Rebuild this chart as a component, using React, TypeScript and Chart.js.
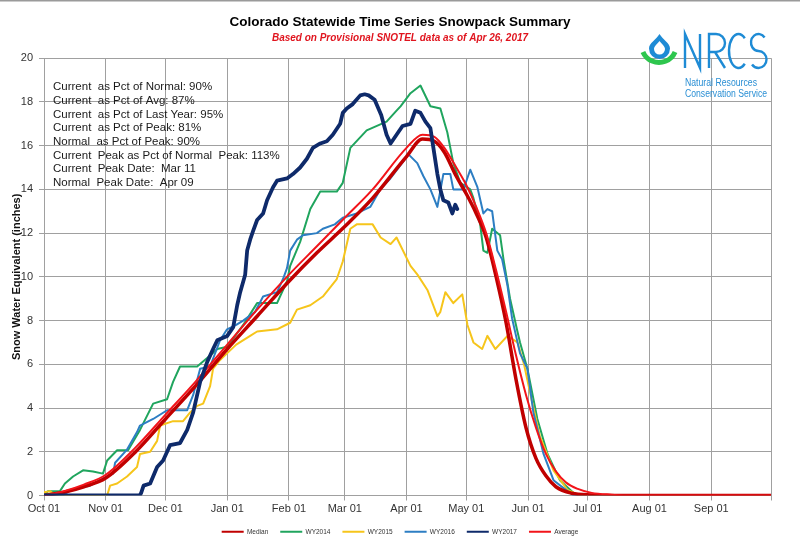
import { useEffect, useRef } from 'react';
import { Chart, registerables } from 'chart.js';

Chart.register(...registerables);
Chart.defaults.font.family = '"Liberation Sans", Arial, sans-serif';

// x values are days since Oct 01
const monthDays = [0, 31, 61, 92, 123, 151, 182, 212, 243, 273, 304, 335, 365];
const monthLabels = ['Oct 01', 'Nov 01', 'Dec 01', 'Jan 01', 'Feb 01', 'Mar 01', 'Apr 01', 'May 01', 'Jun 01', 'Jul 01', 'Aug 01', 'Sep 01', ''];

const seriesNames = ['Median', 'WY2014', 'WY2015', 'WY2016', 'WY2017', 'Average'];

const median: [number, number][] = [
  [0, 0], [10, 0.15], [20, 0.4], [31, 0.8], [46, 2.0], [61, 3.5], [76, 5.0], [92, 6.7], [107, 8.2], [123, 9.8],
  [137, 11.1], [151, 12.3], [165, 13.6], [182, 15.5], [190, 16.3], [196, 16.2], [201, 15.7], [207, 14.6], [212, 13.8],
  [217, 12.9], [222, 11.8], [227, 10.0], [232, 7.9], [237, 5.3], [242, 3.1], [247, 1.7], [252, 0.9], [257, 0.4],
  [265, 0.1], [275, 0.02], [285, 0], [365, 0],
];

const average: [number, number][] = [
  [0, 0], [10, 0.2], [20, 0.5], [31, 0.95], [46, 2.2], [61, 3.7], [76, 5.2], [92, 6.9], [107, 8.5], [123, 10.1],
  [137, 11.4], [151, 12.7], [165, 14.0], [182, 15.9], [190, 16.5], [196, 16.4], [201, 15.9], [207, 15.0], [212, 14.2],
  [217, 13.2], [222, 12.0], [227, 10.3], [232, 8.4], [237, 6.4], [242, 4.6], [247, 3.1], [252, 1.9], [257, 1.1],
  [262, 0.6], [268, 0.3], [275, 0.12], [285, 0.04], [295, 0], [365, 0],
];

const wy2014: [number, number][] = [
  [0, 0], [2, 0.2], [8, 0.2], [10.5, 0.55], [14.6, 0.87], [19.6, 1.15], [24.6, 1.1], [29.6, 1.0], [31.7, 1.6],
  [36.7, 2.07], [42.2, 2.07], [48.2, 3.0], [54.8, 4.2], [61.8, 4.4], [64.8, 5.2], [68.3, 5.9], [76.9, 5.9],
  [83.4, 6.4], [87, 6.7], [92, 6.8], [100, 7.8], [107, 8.8], [117, 8.8], [122, 9.8], [123.6, 10.5], [128.6, 11.6],
  [133.7, 13.1], [138.7, 13.9], [147, 13.9], [150, 14.3], [153.8, 15.9], [162, 16.7], [172, 17.1], [177, 17.6],
  [179, 17.8], [184, 18.4], [189, 18.75], [194, 17.8], [199, 17.7], [202.5, 16.6], [205.5, 15.2], [209, 14.3],
  [214, 14.0], [215.6, 13.6], [219, 12.4], [220.6, 11.2], [222.6, 11.1], [225, 12.2], [229, 11.9], [230.7, 10.8],
  [234, 9.0], [237.7, 7.5], [239, 7.0], [242.7, 5.8], [247.7, 3.5], [252.8, 1.9], [259, 0.7], [266, 0.1],
  [269, 0], [365, 0],
];

const wy2015: [number, number][] = [
  [0, 0.15], [3, 0.2], [6, 0], [31.7, 0], [33.2, 0.45], [36.7, 0.55], [41.7, 0.87], [46.7, 1.3], [48.2, 1.9],
  [53.3, 2.0], [56.8, 2.5], [58.3, 3.2], [64.8, 3.4], [69.8, 3.4], [73.4, 3.8], [76.9, 4.1], [79.9, 4.2],
  [83.4, 5.0], [84.9, 5.8], [88.4, 6.2], [91.9, 6.5], [96.5, 6.9], [103.5, 7.3], [107, 7.5], [117, 7.6],
  [123.6, 7.9], [127, 8.5], [133.7, 8.7], [140, 9.1], [147, 9.9], [150, 10.7], [153.8, 12.2], [157, 12.4],
  [165, 12.4], [169, 11.8], [174, 11.5], [177, 11.8], [184, 10.5], [187.5, 10.1], [192.5, 9.4], [197.5, 8.2],
  [199, 8.4], [201.5, 9.3], [205.5, 8.8], [210, 9.2], [212.6, 7.8], [215.6, 7.0], [220, 6.7], [222.6, 7.3],
  [226.6, 6.7], [232.7, 7.3], [237.7, 7.0], [241, 6.0], [245, 4.3], [249, 2.7], [255.8, 1.15], [262.8, 0.25],
  [269, 0], [365, 0],
];

const wy2016: [number, number][] = [
  [0, 0], [10, 0.05], [14.6, 0.3], [23.1, 0.45], [28.1, 0.7], [31.7, 0.87], [34.7, 1.0], [35.7, 1.5], [41.7, 2.1],
  [46.7, 2.9], [48.2, 3.2], [54.8, 3.5], [61.8, 3.9], [71.9, 3.9], [74.9, 4.6], [78.4, 5.8], [83.4, 5.9],
  [88.4, 7.1], [91.9, 7.6], [96.5, 7.8], [100, 8.0], [106, 8.4], [110, 9.1], [117, 9.3], [120, 9.9], [122, 10.4],
  [123.6, 11.2], [127, 11.7], [130, 11.9], [137, 12.0], [140, 12.2], [146, 12.4], [150, 12.7], [157, 12.9],
  [163.8, 13.2], [168.8, 14.0], [173.9, 14.5], [178.9, 15.1], [183, 15.6], [187.4, 15.2], [190.5, 14.6],
  [194, 14.0], [197.5, 13.2], [200.5, 14.7], [204, 14.7], [205.5, 14.0], [210.6, 14.0], [214, 14.9],
  [217.6, 14.1], [220.6, 12.9], [222.6, 13.1], [225, 13.0], [227.6, 11.2], [230, 10.8], [232.7, 9.6],
  [235, 8.1], [239, 6.5], [242.7, 5.8], [245.7, 3.8], [250.8, 1.9], [255.8, 0.7], [262.8, 0.2], [266, 0], [365, 0],
];

const wy2017: [number, number][] = [
  [0, 0], [48, 0], [48.7, 0.1], [50, 0.45], [53.3, 0.55], [56.8, 1.3], [59.8, 1.6], [63.3, 2.3], [68.3, 2.4],
  [71.9, 3.0], [74.9, 3.8], [78.4, 5.2], [81.9, 6.1], [84.9, 6.7], [87, 7.1], [92, 7.3], [95, 7.7], [97, 8.7],
  [98.5, 9.3], [101, 10.1], [102, 11.2], [103.5, 11.7], [105, 12.1], [107, 12.6], [110, 12.9], [112, 13.5],
  [115, 14.1], [117, 14.4], [122, 14.5], [125, 14.7], [128.6, 15.0], [132, 15.4], [135, 15.9], [138.7, 16.1],
  [142, 16.2], [145, 16.5], [148.7, 17.0], [150, 17.5], [152, 17.7], [155, 17.9], [158.8, 18.3], [161, 18.35],
  [163, 18.3], [166, 18.1], [169.3, 17.4], [172, 16.5], [174, 16.1], [177, 16.5], [180, 16.9], [184, 17.0],
  [186.4, 17.6], [189, 17.5], [191.5, 17.1], [194, 16.8], [195.5, 15.9], [197.5, 14.7], [199, 14.0],
  [200.5, 13.5], [203, 13.4], [205, 12.9], [206.5, 13.3], [207.5, 13.1],
];

const statsLines = [
  'Current  as Pct of Normal: 90%',
  'Current  as Pct of Avg: 87%',
  'Current  as Pct of Last Year: 95%',
  'Current  as Pct of Peak: 81%',
  'Normal  as Pct of Peak: 90%',
  'Current  Peak as Pct of Normal  Peak: 113%',
  'Current  Peak Date:  Mar 11',
  'Normal  Peak Date:  Apr 09',
];

const overlayPlugin = {
  id: 'overlay',
  afterDraw(chart: any) {
    const ctx: CanvasRenderingContext2D = chart.ctx;
    ctx.save();
    // top frame line
    ctx.fillStyle = '#9a9a9a';
    ctx.fillRect(0, 0, 800, 1.5);

    // stats text
    ctx.fillStyle = '#1a1a1a';
    ctx.font = '11.5px "Liberation Sans", Arial, sans-serif';
    ctx.textBaseline = 'middle';
    ctx.textAlign = 'left';
    statsLines.forEach((t, i) => ctx.fillText(t, 53, 87 + i * 13.7));

    // NRCS logo
    const blue = '#1E8BD5';
    ctx.strokeStyle = '#2EC64E';
    ctx.lineWidth = 5;
    ctx.lineCap = 'butt';
    ctx.beginPath();
    ctx.arc(659, 45, 17.5, 0.13 * Math.PI, 0.87 * Math.PI);
    ctx.stroke();

    ctx.fillStyle = blue;
    ctx.beginPath();
    ctx.moveTo(659.5, 34);
    ctx.bezierCurveTo(663, 40, 670, 43, 670, 48.5);
    ctx.arc(659.5, 48.5, 10.5, 0, Math.PI);
    ctx.bezierCurveTo(649, 43, 656, 40, 659.5, 34);
    ctx.fill();
    ctx.fillStyle = '#ffffff';
    ctx.beginPath();
    ctx.moveTo(659.5, 41);
    ctx.bezierCurveTo(661.5, 44, 665, 46, 665, 49);
    ctx.arc(659.5, 49, 5.5, 0, Math.PI);
    ctx.bezierCurveTo(654, 46, 657.5, 44, 659.5, 41);
    ctx.fill();

    ctx.strokeStyle = blue;
    ctx.lineWidth = 2.4;
    ctx.lineJoin = 'miter';
    // N
    ctx.beginPath();
    ctx.moveTo(685, 68); ctx.lineTo(685, 34); ctx.lineTo(700, 68); ctx.lineTo(700, 34);
    ctx.stroke();
    // R
    ctx.beginPath();
    ctx.moveTo(709, 68); ctx.lineTo(709, 34); ctx.lineTo(716, 34);
    ctx.arc(716, 43, 9, -0.5 * Math.PI, 0.5 * Math.PI);
    ctx.lineTo(709, 52);
    ctx.moveTo(715, 52); ctx.lineTo(725, 68);
    ctx.stroke();
    // C
    ctx.beginPath();
    ctx.ellipse(738.5, 51, 9.5, 17, 0, 0.27 * Math.PI, 1.73 * Math.PI);
    ctx.stroke();
    // S
    ctx.beginPath();
    ctx.ellipse(758.5, 42.5, 7.5, 8.5, 0, -0.2 * Math.PI, 0.5 * Math.PI, true);
    ctx.ellipse(758.5, 59.5, 8, 8.5, 0, -0.5 * Math.PI, 0.8 * Math.PI);
    ctx.stroke();

    ctx.fillStyle = '#2A8FD4';
    ctx.font = '10px "Liberation Sans", Arial, sans-serif';
    ctx.textBaseline = 'middle';
    const drawFit = (t: string, x: number, y: number, w: number) => {
      const m = ctx.measureText(t).width;
      ctx.save();
      ctx.translate(x, y);
      ctx.scale(w / m, 1);
      ctx.fillText(t, 0, 0);
      ctx.restore();
    };
    drawFit('Natural Resources', 685, 83, 72);
    drawFit('Conservation Service', 685, 94, 82);
    ctx.restore();
  },
};

function toPoints(a: [number, number][]) {
  return a.map(([x, y]) => ({ x, y }));
}

export default function App() {
  const ref = useRef<HTMLCanvasElement>(null);
  useEffect(() => {
    const grid = '#a0a0a0';
    const mk = (i: number, data: [number, number][], color: string, width: number, order: number, smooth: boolean) => ({
      label: seriesNames[i],
      data: toPoints(data),
      borderColor: color,
      backgroundColor: color,
      borderWidth: width,
      borderJoinStyle: 'round',
      borderCapStyle: 'round',
      pointRadius: 0,
      tension: 0,
      cubicInterpolationMode: smooth ? 'monotone' : 'default',
      order,
    });
    const chart = new Chart(ref.current as HTMLCanvasElement, {
      type: 'line',
      data: {
        datasets: [
          mk(0, median, '#C00000', 3.5, 2, true),
          mk(1, wy2014, '#20A55E', 2, 5, false),
          mk(2, wy2015, '#F6C51B', 2, 4, false),
          mk(3, wy2016, '#2D7EC3', 2, 3, false),
          mk(4, wy2017, '#0E2A6A', 3.8, 0, false),
          mk(5, average, '#F2141A', 2, 1, true),
        ] as any,
      },
      options: {
        animation: false,
        responsive: true,
        maintainAspectRatio: false,
        events: [],
        layout: { padding: { left: 0, right: 0, top: 0, bottom: 4 } },
        scales: {
          x: {
            type: 'linear',
            min: 0,
            max: 365,
            afterBuildTicks: (s: any) => {
              s.ticks = monthDays.map((v) => ({ value: v }));
            },
            afterFit: (s: any) => {
              s.height = 21;
            },
            ticks: {
              autoSkip: false,
              maxRotation: 0,
              color: '#333',
              font: { size: 11 },
              padding: 2,
              callback: (v: any) => {
                const i = monthDays.indexOf(Number(v));
                return i >= 0 ? monthLabels[i] : '';
              },
            },
            grid: { color: grid, lineWidth: 1, tickLength: 5 },
            border: { color: grid },
          },
          y: {
            min: 0,
            max: 20,
            afterFit: (s: any) => {
              s.width = 44;
            },
            ticks: { stepSize: 2, color: '#333', font: { size: 11 }, padding: 6 },
            grid: { color: grid, lineWidth: 1, tickLength: 5 },
            border: { color: grid },
            title: {
              display: true,
              text: 'Snow Water Equivalent (inches)',
              color: '#111',
              font: { size: 11, weight: 'bold' },
              padding: { top: 10, bottom: 0 },
            },
          },
          yRight: {
            position: 'right',
            display: true,
            min: 0,
            max: 20,
            ticks: { display: false },
            grid: { display: false },
            border: { display: false },
            afterFit: (s: any) => {
              s.width = 29;
            },
          },
        } as any,
        plugins: {
          title: {
            display: true,
            text: 'Colorado Statewide Time Series Snowpack Summary',
            color: '#000',
            font: { size: 13.5, weight: 'bold' },
            padding: { top: 14, bottom: 2 },
          },
          subtitle: {
            display: true,
            text: 'Based on Provisional SNOTEL data as of Apr 26, 2017',
            color: '#E0141E',
            font: { size: 10, weight: 'bold', style: 'italic' },
            padding: { top: 0, bottom: 14 },
          },
          legend: {
            position: 'bottom',
            labels: {
              boxWidth: 22,
              boxHeight: 2,
              padding: 12,
              color: '#333',
              font: { size: 6.5 },
              generateLabels: (c: any) =>
                (Chart.defaults.plugins.legend.labels.generateLabels as any)(c)
                  .map((l: any) => ({ ...l, lineWidth: 0, strokeStyle: l.fillStyle }))
                  .sort((a: any, b: any) => a.datasetIndex - b.datasetIndex),
            },
          },
          tooltip: { enabled: false },
        },
      } as any,
      plugins: [overlayPlugin],
    });
    return () => chart.destroy();
  }, []);
  return (
    <div style={{ position: 'absolute', left: 0, top: 0, width: 800, height: 549, background: '#fff' }}>
      <canvas ref={ref} />
    </div>
  );
}
